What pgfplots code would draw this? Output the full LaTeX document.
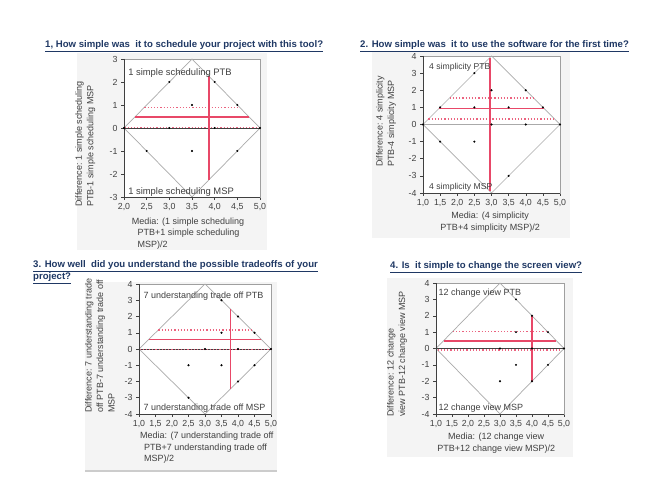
\documentclass[border=0pt]{standalone}
\usepackage{pgfplots}
\pgfplotsset{compat=1.18}
\usepackage{fontspec}
\setmainfont{Liberation Sans}
\definecolor{redl}{RGB}{232,72,104}
\definecolor{navy}{RGB}{31,56,100}
\definecolor{txt}{RGB}{64,64,64}
\definecolor{dia}{RGB}{170,170,170}
\definecolor{bgg}{RGB}{244,244,244}
\tikzset{
  lab/.style={font=\fontsize{9}{11}\selectfont, text=txt, inner sep=0pt, anchor=base west},
}
\pgfplotsset{
  ba/.style={
    scale only axis, clip=false,
    axis line style={draw=gray!75, line width=0.5pt},
    xtick pos=left, ytick pos=left,
    tick align=outside, major tick length=3pt,
    tick style={draw=txt, line width=0.5pt},
    ticklabel style={font=\fontsize{8.8}{10}\selectfont, text=txt},
    /pgf/number format/assume math mode=true,
    xticklabel style={/pgf/number format/.cd, fixed, fixed zerofill, precision=1, use comma},
    label style={font=\fontsize{9}{11.5}\selectfont, text=txt, inner sep=0pt},
    axis background/.style={fill=white},
  },
  diam/.style={color=dia, solid, line width=0.7pt, mark=none},
  zl/.style={color=txt, solid, line width=0.7pt, mark=none},
  ci/.style={color=redl!85, line width=1.4pt, dash pattern=on 1.2pt off 2pt, mark=none},
  mn/.style={color=redl, solid, line width=1.6pt, mark=none},
  pts/.style={only marks, mark=*, mark size=0.8pt, color=black},
}
\newcommand{\ttl}[1]{\underline{#1}}
\begin{document}
\begin{tikzpicture}
\useasboundingbox (0,0) rectangle (646pt,495pt);
\fill[white] (0,0) rectangle (646pt,495pt);
% grey panels
\fill[bgg] (77pt,245pt) rectangle (267pt,442pt);
\fill[bgg] (372pt,257pt) rectangle (570pt,443pt);
\fill[bgg] (85pt,24pt) rectangle (277pt,213pt);
\draw[gray!40, line width=1.2pt] (85pt,24pt) -- (277pt,24pt);
\fill[bgg] (387pt,38pt) rectangle (573pt,217pt);
% titles
\node[anchor=base west, inner sep=0pt, text=navy, font=\bfseries\fontsize{9.6}{12}\selectfont] at (45pt,447pt) {\ttl{1, How simple was\ \ it to schedule your project with this tool?}};
\node[anchor=base west, inner sep=0pt, text=navy, font=\bfseries\fontsize{9.6}{12}\selectfont] at (360pt,447pt) {\ttl{2. How simple was\ \ it to use the software for the first time?}};
\node[anchor=base west, inner sep=0pt, text=navy, font=\bfseries\fontsize{9.6}{12}\selectfont] at (33pt,227.5pt) {\ttl{3. How well\ \ did you understand the possible tradeoffs of your}};
\node[anchor=base west, inner sep=0pt, text=navy, font=\bfseries\fontsize{9.6}{12}\selectfont] at (33pt,215.5pt) {\ttl{project?}};
\node[anchor=base west, inner sep=0pt, text=navy, font=\bfseries\fontsize{9.6}{12}\selectfont] at (390pt,226.5pt) {\ttl{4. Is\ \ it simple to change the screen view?}};

% ---------- panel 1
\begin{axis}[ba, at={(124pt,298pt)}, anchor=south west, width=136pt, height=138pt,
  xmin=2, xmax=5, ymin=-3, ymax=3,
  xtick={2,2.5,3,3.5,4,4.5,5}, ytick={-3,-2,-1,0,1,2,3},
  xlabel={\hspace*{-5.7pt}Media: (1 simple scheduling\\PTB+1 simple scheduling\\MSP)/2},
  xlabel style={at={(axis description cs:0.098,-0.15)}, anchor=north west, align=left},
  ylabel={Difference: 1 simple scheduling\\PTB-1 simple scheduling MSP},
  ylabel style={at={(axis description cs:-0.36,-0.072)}, anchor=north west, align=left},
]
\addplot[diam] coordinates {(2,0) (3.5,3) (5,0) (3.5,-3) (2,0)};
\addplot[zl] coordinates {(2,0) (5,0)};
\addplot[ci] coordinates {(2.45,0.9) (4.55,0.9)};
\addplot[ci] coordinates {(2.01,0.02) (4.99,0.02)};
\addplot[mn] coordinates {(2.24,0.48) (4.76,0.48)};
\addplot[mn] coordinates {(3.88,-2.24) (3.88,2.24)};
\addplot[pts] coordinates {(3,2) (4,2) (3.5,1) (4.5,1) (2,0) (3,0) (4,0) (5,0) (2.5,-1) (3.5,-1) (4.5,-1)};
\draw[txt, line width=0.6pt] (rel axis cs:0,1) -- (rel axis cs:0,0) -- (rel axis cs:1,0);
\node[lab, font=\fontsize{9.4}{11}\selectfont] at (rel axis cs:0.03,0.884) {1 simple scheduling PTB};
\node[lab, font=\fontsize{9.4}{11}\selectfont] at (rel axis cs:0.03,0.015) {1 simple scheduling MSP};
\end{axis}

% ---------- panel 2
\begin{axis}[ba, at={(423pt,302pt)}, anchor=south west, width=137pt, height=137pt,
  xmin=1, xmax=5, ymin=-4, ymax=4,
  xtick={1,1.5,2,2.5,3,3.5,4,4.5,5}, ytick={-4,-3,-2,-1,0,1,2,3,4},
  xlabel={Media: (4 simplicity\\PTB+4 simplicity MSP)/2},
  xlabel style={at={(axis description cs:0.49,-0.139)}, anchor=north, align=center},
  ylabel={Difference: 4 simplicity\\PTB-4 simplicity MSP},
  ylabel style={at={(axis description cs:-0.343,0.19)}, anchor=north west, align=left},
]
\addplot[diam] coordinates {(1,0) (3,4) (5,0) (3,-4) (1,0)};
\addplot[diam] coordinates {(1,0) (5,0)};
\addplot[ci] coordinates {(1.775,1.55) (4.225,1.55)};
\addplot[ci] coordinates {(1.155,0.31) (4.845,0.31)};
\addplot[mn] coordinates {(1.465,0.93) (4.535,0.93)};
\addplot[mn] coordinates {(2.95,-3.9) (2.95,3.9)};
\addplot[pts] coordinates {(2.5,3) (3,2) (4,2) (1.5,1) (2.5,1) (3.5,1) (4.5,1) (1,0) (3,0) (4,0) (5,0) (1.5,-1) (2.5,-1) (3.5,-3)};
\draw[txt, line width=0.6pt] (rel axis cs:0,1) -- (rel axis cs:0,0) -- (rel axis cs:1,0);
\node[lab, font=\fontsize{8.6}{11}\selectfont] at (rel axis cs:0.044,0.898) {4 simplicity PTB};
\node[lab, font=\fontsize{8.6}{11}\selectfont] at (rel axis cs:0.044,0.026) {4 simplicity MSP};
\end{axis}

% ---------- panel 3
\begin{axis}[ba, at={(139pt,81pt)}, anchor=south west, width=132pt, height=130pt,
  xmin=1, xmax=5, ymin=-4, ymax=4,
  xtick={1,1.5,2,2.5,3,3.5,4,4.5,5}, ytick={-4,-3,-2,-1,0,1,2,3,4},
  xlabel={\hspace*{-4pt}Media: (7 understanding trade off\\PTB+7 understanding trade off\\MSP)/2},
  xlabel style={at={(axis description cs:0.038,-0.138)}, anchor=north west, align=left},
  ylabel={Difference: 7 understanding trade\\off PTB-7 understanding trade off\\MSP},
  ylabel style={at={(axis description cs:-0.41,0.008)}, anchor=north west, align=left},
]
\addplot[diam] coordinates {(1,0) (3,4) (5,0) (3,-4) (1,0)};
\addplot[zl] coordinates {(1,0) (5,0)};
\addplot[ci] coordinates {(1.585,1.17) (4.415,1.17)};
\addplot[ci] coordinates {(1.01,-0.02) (4.99,-0.02)};
\addplot[mn] coordinates {(1.29,0.58) (4.71,0.58)};
\addplot[mn] coordinates {(3.77,-2.46) (3.77,2.46)};
\addplot[pts] coordinates {(3.5,3) (4,2) (3.5,1) (4.5,1) (3,0) (4,0) (5,0) (2.5,-1) (3.5,-1) (4.5,-1) (4,-2) (2.5,-3)};
\draw[txt, line width=0.6pt] (rel axis cs:0,1) -- (rel axis cs:0,0) -- (rel axis cs:1,0);
\node[lab] at (rel axis cs:0.033,0.888) {7 understanding trade off PTB};
\node[lab] at (rel axis cs:0.033,0.03) {7 understanding trade off MSP};
\end{axis}

% ---------- panel 4
\begin{axis}[ba, at={(436pt,81pt)}, anchor=south west, width=128pt, height=131pt,
  xmin=1, xmax=5, ymin=-4, ymax=4,
  xtick={1,1.5,2,2.5,3,3.5,4,4.5,5}, ytick={-4,-3,-2,-1,0,1,2,3,4},
  xlabel={Media: (12 change view\\PTB+12 change view MSP)/2},
  xlabel style={at={(axis description cs:0.47,-0.145)}, anchor=north, align=center},
  ylabel={Difference: 12 change\\view PTB-12 change view MSP},
  ylabel style={at={(axis description cs:-0.383,-0.023)}, anchor=north west, align=left},
]
\addplot[diam] coordinates {(1,0) (3,4) (5,0) (3,-4) (1,0)};
\addplot[zl] coordinates {(1,0) (5,0)};
\addplot[ci] coordinates {(1.525,1.05) (4.475,1.05)};
\addplot[ci] coordinates {(1.05,-0.1) (4.95,-0.1)};
\addplot[mn] coordinates {(1.235,0.47) (4.765,0.47)};
\addplot[mn] coordinates {(4,-2) (4,2)};
\addplot[pts] coordinates {(3.5,3) (4,2) (3.5,1) (4.5,1) (3,0) (4,0) (5,0) (3.5,-1) (4.5,-1) (3,-2) (4,-2)};
\draw[txt, line width=0.6pt] (rel axis cs:0,1) -- (rel axis cs:0,0) -- (rel axis cs:1,0);
\node[lab] at (rel axis cs:0.018,0.908) {12 change view PTB};
\node[lab] at (rel axis cs:0.018,0.03) {12 change view MSP};
\end{axis}
\end{tikzpicture}
\end{document}
